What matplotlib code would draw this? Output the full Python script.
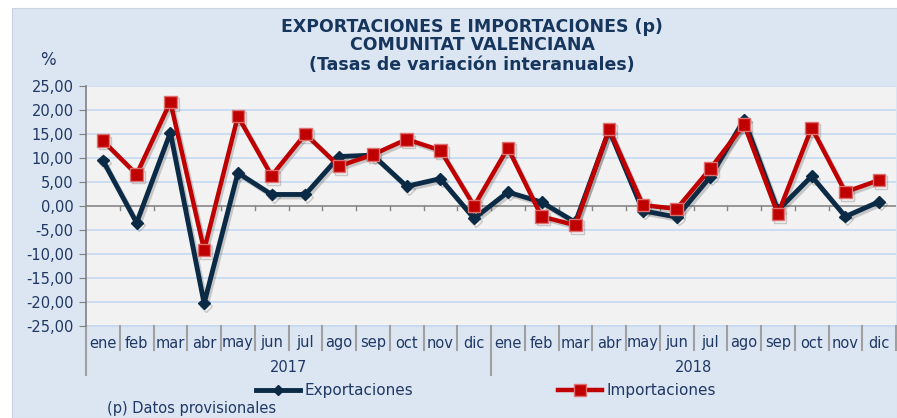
import matplotlib
matplotlib.use("Agg")
import matplotlib.pyplot as plt
import matplotlib.patheffects as pe
from matplotlib.patches import Rectangle
from matplotlib.lines import Line2D
import matplotlib.transforms as mtrans

months = ["ene", "feb", "mar", "abr", "may", "jun", "jul", "ago", "sep", "oct", "nov", "dic"] * 2
years = ["2017", "2018"]
exportaciones = [9.5, -3.5, 15.3, -20.3, 6.9, 2.4, 2.4, 10.3, 10.6, 4.1, 5.7, -2.6,
                 2.9, 0.8, -3.4, 15.8, -1.0, -2.3, 6.1, 18.0, -0.9, 6.2, -2.2, 0.9]
importaciones = [13.6, 6.6, 21.7, -9.2, 18.7, 6.3, 15.0, 8.3, 10.7, 13.9, 11.6, 0.0,
                 12.1, -2.2, -4.0, 16.0, 0.2, -0.6, 7.8, 17.0, -1.7, 16.3, 2.9, 5.4]
yticks = [25, 20, 15, 10, 5, 0, -5, -10, -15, -20, -25]

W, H = 897, 418
fig = plt.figure(figsize=(W / 100, H / 100), dpi=100)
fig.patch.set_facecolor("white")
bg = Rectangle((12 / W, 0), 1 - 12 / W, 1 - 8 / H, transform=fig.transFigure,
               facecolor="#dce6f2", edgecolor="#c8d4e4", lw=0.8, zorder=-5)
fig.add_artist(bg)

txt = "#1f3864"
tcol = "#17365d"
fam = ["DejaVu Sans"]

ax = fig.add_axes([86 / W, 1 - 326 / H, (896 - 86) / W, (326 - 86) / H])
ax.set_zorder(1)
ax.set_facecolor("#f2f2f2")
n = len(months)
x = list(range(n))
ax.set_xlim(-0.5, n - 0.5)
ax.set_ylim(-25, 25)
ax.set_yticks(yticks)
ax.set_yticklabels([f"{v:.2f}".replace(".", ",") for v in yticks], color=txt,
                   fontsize=10.5, family=fam)
ax.tick_params(axis="y", length=5, color="#808080", pad=4)
ax.set_xticks([])
for s in ["top", "right", "bottom"]:
    ax.spines[s].set_visible(False)
ax.spines["left"].set_color("#808080")
ax.spines["left"].set_linewidth(1.2)
for v in yticks:
    if v != 0:
        ax.axhline(v, color="#c6d9f1", lw=1.2, zorder=1)
ax.axhline(0, color="#868686", lw=1.2, zorder=2)
ax.axhline(-25, color="#c6d9f1", lw=1.2, zorder=1, clip_on=False)

# small ticks on zero line
for b in range(1, n):
    ax.plot([b - 0.5, b - 0.5], [0, -0.8], color="#868686", lw=1, zorder=2)

# category separators below axis
trb = mtrans.blended_transform_factory(ax.transData, fig.transFigure)
for b in range(0, n + 1):
    y0 = 1 - 326 / H
    y1 = 1 - (375 if b in (0, 12) else 350) / H
    ax.add_line(Line2D([b - 0.5, b - 0.5], [y0, y1], transform=trb, color="#a0a0a0",
                       lw=1.5, clip_on=False))
for i, m in enumerate(months):
    ax.text(i, 1 - 343 / H, m, transform=trb, ha="center", va="center", color=txt,
            fontsize=10.5, family=fam)
for k, yr in enumerate(years):
    ax.text(5.5 + 12 * k, 1 - 368 / H, yr, transform=trb, ha="center", va="center",
            color=txt, fontsize=10.5, family=fam)

shadow = [pe.SimpleLineShadow(offset=(1.5, -1.8), alpha=0.22, shadow_color="#303030"),
          pe.Normal()]
ax.plot(x, exportaciones, color="#0b2a45", lw=3.5, marker="D", markersize=6,
        markerfacecolor="#0b2a45", markeredgecolor="#0b2a45", zorder=4,
        path_effects=shadow, clip_on=False)
ax.plot(x, importaciones, color="#c00000", lw=3.2, marker="s", markersize=9,
        markerfacecolor="#c00000", markeredgecolor="#e07070", markeredgewidth=1,
        zorder=5, path_effects=shadow, clip_on=False)

# legend
fy = 1 - 390 / H
l1 = Line2D([256 / W, 278 / W, 300 / W], [fy, fy, fy], color="#0b2a45", lw=3.5, marker="D",
            markersize=5, markevery=[1], transform=fig.transFigure)
fig.add_artist(l1)
fig.text(304 / W, fy, "Exportaciones", ha="left", va="center", color=txt, fontsize=11,
         family=fam)
l2 = Line2D([558 / W, 580 / W, 602 / W], [fy, fy, fy], color="#c00000", lw=3.2, marker="s",
            markersize=8, markevery=[1], markerfacecolor="#c00000", markeredgecolor="#e07070",
            transform=fig.transFigure)
fig.add_artist(l2)
fig.text(607 / W, fy, "Importaciones", ha="left", va="center", color=txt, fontsize=11,
         family=fam)

fig.text(107 / W, 1 - 408 / H, "(p) Datos provisionales", ha="left", va="center", color=txt,
         fontsize=10.5, family=fam)
fig.text(40 / W, 1 - 60 / H, "%", ha="left", va="center", color=txt, fontsize=12, family=fam)

fig.text(472 / W, 1 - 27 / H, "EXPORTACIONES E IMPORTACIONES (p)", ha="center", va="center",
         color=tcol, fontsize=12.5, fontweight="bold", family=fam)
fig.text(472 / W, 1 - 45.5 / H, "COMUNITAT VALENCIANA", ha="center", va="center",
         color=tcol, fontsize=12.5, fontweight="bold", family=fam)
fig.text(472 / W, 1 - 65 / H, "(Tasas de variación interanuales)", ha="center", va="center",
         color=tcol, fontsize=12.5, fontweight="bold", family=fam)

fig.savefig("out.png", dpi=100, facecolor=fig.get_facecolor())
